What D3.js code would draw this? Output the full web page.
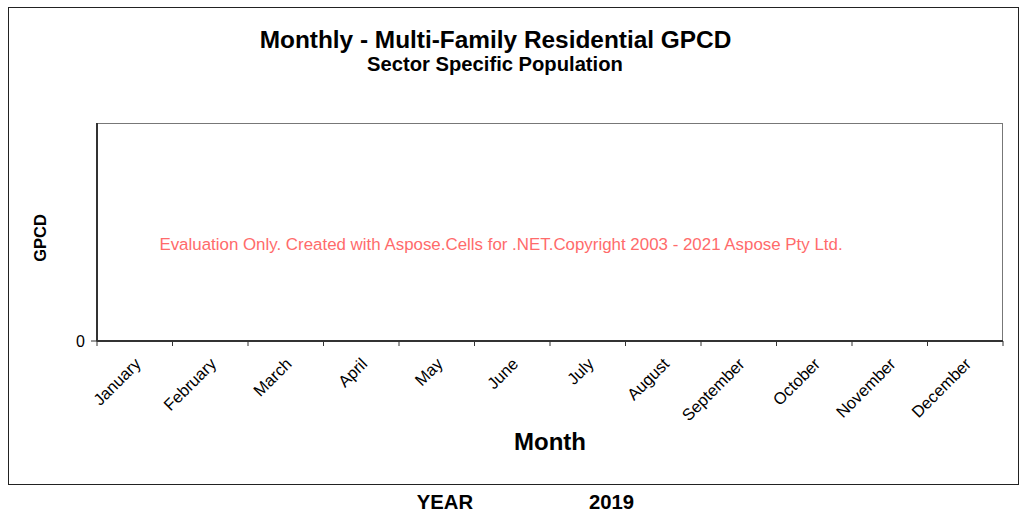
<!DOCTYPE html>
<html><head><meta charset="utf-8">
<script src="https://cdn.jsdelivr.net/npm/d3@7"></script>
<style>body{margin:0;background:#fff}svg{display:block}</style>
</head><body>
<svg id="c" width="1024" height="514"></svg>
<script>
const months = ["January","February","March","April","May","June","July","August","September","October","November","December"];
const values = [null,null,null,null,null,null,null,null,null,null,null,null];
const yTicks = [0];
const title = "Monthly - Multi-Family Residential GPCD";
const subtitle = "Sector Specific Population";
const yLabel = "GPCD";
const xLabel = "Month";
const watermark = "Evaluation Only. Created with Aspose.Cells for .NET.Copyright 2003 - 2021 Aspose Pty Ltd.";
const yearLabel = "YEAR";
const yearValue = "2019";

const svg = d3.select("#c");
const font = "Liberation Sans, Arial, sans-serif";
svg.append("rect").attr("x",8.5).attr("y",7.5).attr("width",1010).attr("height",477)
  .attr("fill","#fff").attr("stroke","#222").attr("stroke-width",1);

const L=97, R=1003, T=123, B=341;
const x = d3.scaleBand().domain(months).range([L,R]);
const y = d3.scaleLinear().domain([0,1]).range([B,T]);

svg.append("rect").attr("x",L).attr("y",T+0.5).attr("width",R-L-0.5).attr("height",B-T)
  .attr("fill","#fff").attr("stroke","#777").attr("stroke-width",1);

// bars (no data)
svg.append("g").selectAll("rect").data(months.map((m,i)=>({m,v:values[i]})).filter(d=>d.v!=null))
  .join("rect").attr("x",d=>x(d.m)).attr("width",x.bandwidth()).attr("y",d=>y(d.v)).attr("height",d=>B-y(d.v)).attr("fill","#4a7ebb");

// x axis
const xa = svg.append("g").attr("transform",`translate(0,${B})`);
xa.append("line").attr("x1",L).attr("x2",R).attr("stroke","#333").attr("stroke-width",2);
const tickPos = months.map(m=>x(m)).concat([R]);
xa.selectAll("line.t").data(tickPos).join("line").attr("class","t")
  .attr("x1",d=>d).attr("x2",d=>d).attr("y1",0).attr("y2",5).attr("stroke","#333").attr("stroke-width",1);
xa.selectAll("text").data(months).join("text")
  .attr("transform",d=>`translate(${x(d)+x.bandwidth()/2+7},${24}) rotate(-45)`)
  .attr("text-anchor","end").attr("font-family",font).attr("font-size",16.5).attr("fill","#000").text(d=>d);

// y axis
const ya = svg.append("g");
ya.append("line").attr("x1",L).attr("x2",L).attr("y1",T).attr("y2",B).attr("stroke","#333").attr("stroke-width",2);
ya.selectAll("line.t").data(yTicks).join("line").attr("class","t")
  .attr("x1",L-6).attr("x2",L).attr("y1",d=>y(d)).attr("y2",d=>y(d)).attr("stroke","#333");
ya.selectAll("text").data(yTicks).join("text").attr("x",L-12).attr("y",d=>y(d)+6)
  .attr("text-anchor","end").attr("font-family",font).attr("font-size",16).text(d=>d);

svg.append("text").attr("x",495.5).attr("y",48).attr("text-anchor","middle").attr("font-family",font)
  .attr("font-weight","bold").attr("font-size",24.4).text(title);
svg.append("text").attr("x",495).attr("y",71).attr("text-anchor","middle").attr("font-family",font)
  .attr("font-weight","bold").attr("font-size",20.2).text(subtitle);
svg.append("text").attr("transform","translate(46,238) rotate(-90)").attr("text-anchor","middle")
  .attr("font-family",font).attr("font-weight","bold").attr("font-size",16.5).text(yLabel);
svg.append("text").attr("x",550).attr("y",450).attr("text-anchor","middle").attr("font-family",font)
  .attr("font-weight","bold").attr("font-size",24).text(xLabel);
svg.append("text").attr("x",501).attr("y",250).attr("text-anchor","middle").attr("font-family",font)
  .attr("font-size",16.9).attr("fill","#ff6b6b").text(watermark);
svg.append("text").attr("x",445).attr("y",509).attr("text-anchor","middle").attr("font-family",font)
  .attr("font-weight","bold").attr("font-size",20.3).text(yearLabel);
svg.append("text").attr("x",611.5).attr("y",509).attr("text-anchor","middle").attr("font-family",font)
  .attr("font-weight","bold").attr("font-size",20.3).text(yearValue);
</script>
</body></html>
